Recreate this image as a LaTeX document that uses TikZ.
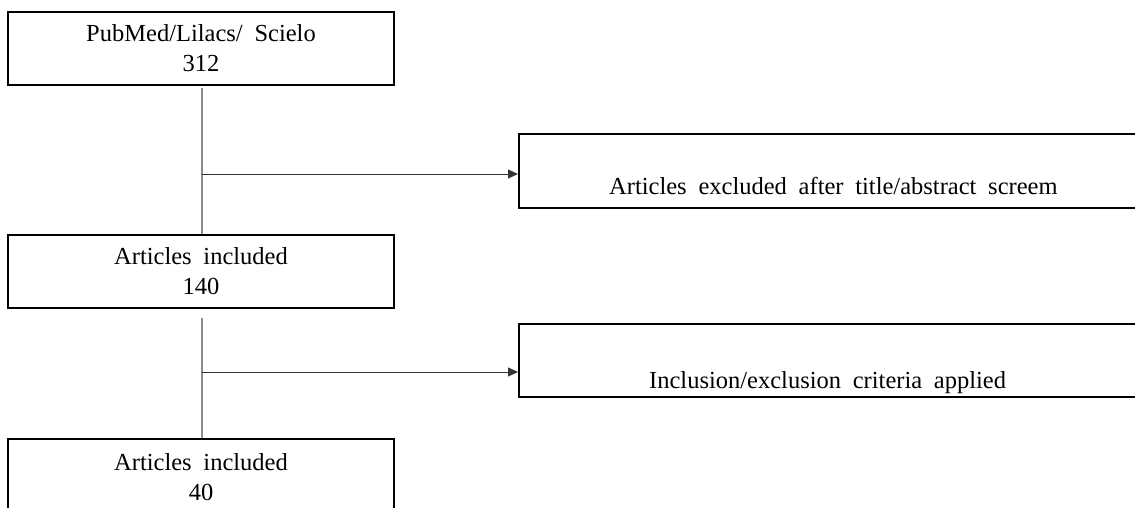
\documentclass[tikz,border=0pt]{standalone}
\usepackage{fontspec}
\setmainfont{Liberation Serif}
\usetikzlibrary{arrows.meta}
\newcommand\mytxtfont{\fontsize{24.5}{30}\selectfont\spaceskip=0.48em plus 0.1em\relax}
\begin{document}
\begin{tikzpicture}[x=1pt,y=-1pt,
  txt/.style={font=\mytxtfont},
  lbox/.style={draw=black, line width=1.6pt, rectangle, inner sep=0pt,
    minimum width=386pt, minimum height=73pt, align=center, txt},
  rbox/.style={draw=black, line width=1.6pt, rectangle, inner sep=0pt,
    minimum width=640pt, minimum height=74pt, anchor=north west},
  vline/.style={draw=black!45, line width=1.4pt},
  harrow/.style={draw=black!80, line width=1pt, -{Triangle[length=10pt,width=9pt]}}]
\useasboundingbox (0,0) rectangle (1135,507);
\clip (0,0) rectangle (1135,507);
% left column boxes
\node[lbox] (b1) at (201,48.5) {PubMed/Lilacs/ Scielo\\312};
\node[lbox] (b2) at (201,271.5) {Articles included\\140};
\node[lbox, minimum height=76pt] (b3) at (201,477) {Articles included\\40};
% right boxes
\node[rbox] (r1) at (518,133) {};
\node[txt, anchor=base west, inner sep=0pt] (t1) at (609,194) {Articles excluded after title/abstract screem};
\node[rbox, minimum height=73pt] (r2) at (518,323) {};
\node[txt, anchor=base west, inner sep=0pt] (t2) at (649,388) {Inclusion/exclusion criteria applied};
% junctions
\coordinate (j1) at (202,174);
\coordinate (j2) at (202,372);
% connectors
\draw[vline] ([xshift=1pt,yshift=-2pt]b1.south) -- ([xshift=1pt]b2.north);
\draw[vline] ([xshift=1pt,yshift=-9pt]b2.south) -- ([xshift=1pt]b3.north);
\draw[harrow] (j1) -- (j1 -| r1.west);
\draw[harrow] (j2) -- (j2 -| r2.west);
\end{tikzpicture}
\end{document}
